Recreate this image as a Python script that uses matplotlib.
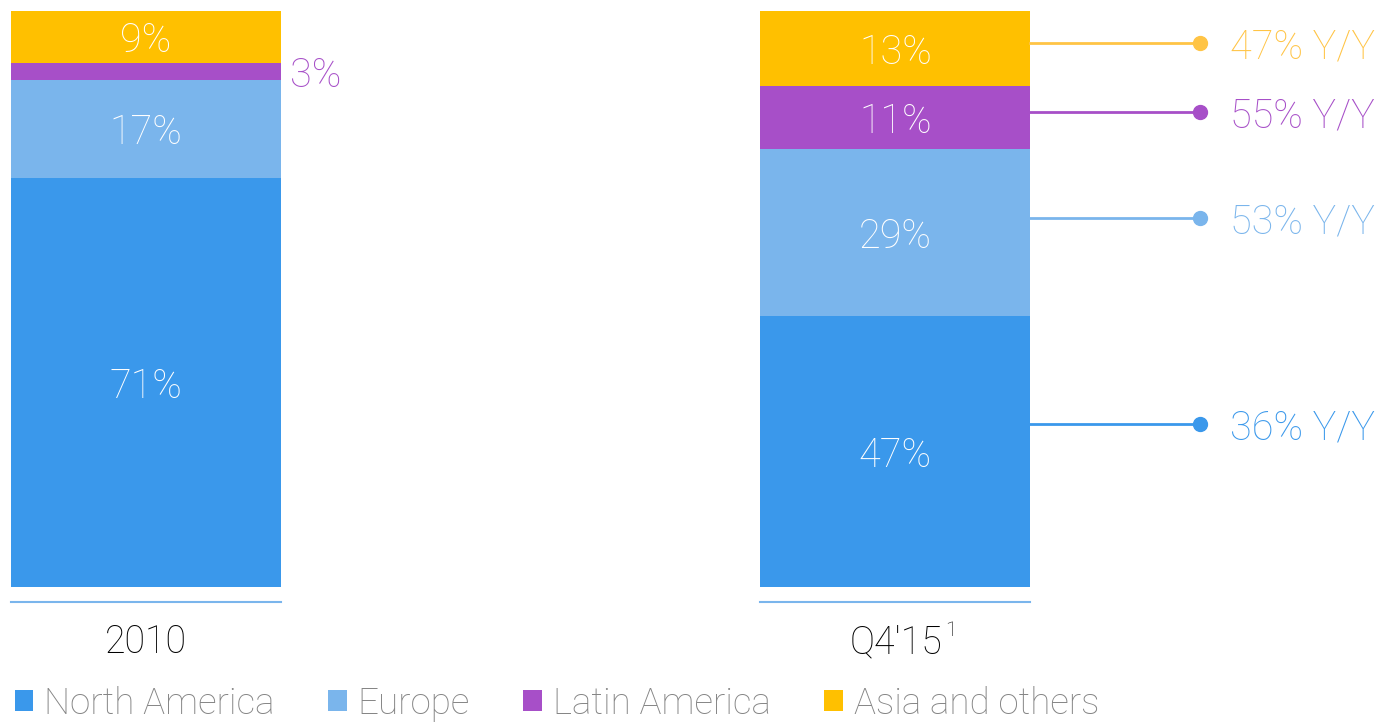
import matplotlib
matplotlib.use('Agg')
import matplotlib.pyplot as plt
from matplotlib.patches import Patch


# ============================================================
# Revenue mix by region
# ============================================================

PERIODS = ['2010', "Q4'15"]
PERIOD_NOTES = ['', '1']
REGIONS = ['North America', 'Europe', 'Latin America', 'Asia and others']
SHARE_2010 = [71, 17, 3, 9]
SHARE_Q415 = [47, 29, 11, 13]
GROWTH_YY = ['36% Y/Y', '53% Y/Y', '55% Y/Y', '47% Y/Y']

COLORS = ['#3a98eb', '#7ab5ec', '#a74fc8', '#ffc000']
GROWTH_COLORS = ['#3a98eb', '#7ab5ec', '#a74fc8', '#ffc445']

# heights (in %) where the growth connectors leave the second bar
CONNECTOR_Y = [28.3, 64.1, 82.5, 94.4]

FONT = ['Roboto', 'DejaVu Sans']
plt.rcParams['font.family'] = FONT

W, H = 1378, 722
fig = plt.figure(figsize=(W / 100.0, H / 100.0), dpi=100)
ax = fig.add_axes([0, (H - 587) / H, 1, (587 - 11) / H])

px_per_unit = 749.5
ax.set_xlim(-146 / px_per_unit, (W - 146) / px_per_unit)
ax.set_ylim(0, 100)
ax.axis('off')

bar_width = 270 / px_per_unit
series = [SHARE_2010, SHARE_Q415]

for i, shares in enumerate(series):
    bottom = 0
    for j, value in enumerate(shares):
        ax.bar(i, value, bottom=bottom, width=bar_width, color=COLORS[j],
               edgecolor='none')
        mid = bottom + value / 2.0
        if value >= 5:
            ax.text(i, mid, '%d%%' % value, ha='center',
                    va='center_baseline', color='white', fontsize=28.5,
                    fontweight='light')
        else:
            ax.text(i + bar_width / 2 + 9 / px_per_unit, mid, '%d%%' % value,
                    ha='left', va='center_baseline', color=COLORS[j],
                    fontsize=28.5, fontweight='light')
        bottom += value

    # thin baseline under each bar
    ax.plot([i - bar_width / 2, i + bar_width / 2], [-2.6, -2.6],
            color='#7ab5ec', linewidth=1.5, clip_on=False)
    if PERIOD_NOTES[i]:
        ax.text(i + 47 / px_per_unit, -8.9, PERIODS[i], ha='right',
                va='center_baseline', color='black', fontsize=27,
                fontweight='light')
        ax.text(i + 50 / px_per_unit, -7.2, PERIOD_NOTES[i], ha='left',
                va='center_baseline', color='black', fontsize=15,
                fontweight='light')
    else:
        ax.text(i, -8.9, PERIODS[i], ha='center', va='center_baseline',
                color='black', fontsize=27, fontweight='light')

# growth callouts next to the latest bar
x_start = 1 + bar_width / 2
x_dot = (1200 - 146) / px_per_unit
x_text = (1230 - 146) / px_per_unit
for j in range(len(REGIONS)):
    y = CONNECTOR_Y[j]
    ax.plot([x_start, x_dot], [y, y], color=GROWTH_COLORS[j], linewidth=2)
    ax.plot(x_dot, y, 'o', color=GROWTH_COLORS[j], markersize=10)
    ax.text(x_text, y, GROWTH_YY[j], ha='left', va='center_baseline',
            color=GROWTH_COLORS[j], fontsize=28.5, fontweight='light')

handles = [Patch(facecolor=c, edgecolor='none') for c in COLORS]
leg = fig.legend(handles, REGIONS, loc='center left',
                 bbox_to_anchor=(4.0 / W, (H - 704) / H), ncol=4,
                 frameon=False, fontsize=26.5, handlelength=0.5,
                 handleheight=0.5, handletextpad=0.3, columnspacing=1.45,
                 borderaxespad=0, borderpad=0.3)
for text in leg.get_texts():
    text.set_color('#858585')
    text.set_fontweight('light')

fig.savefig('out.png', dpi=100)
